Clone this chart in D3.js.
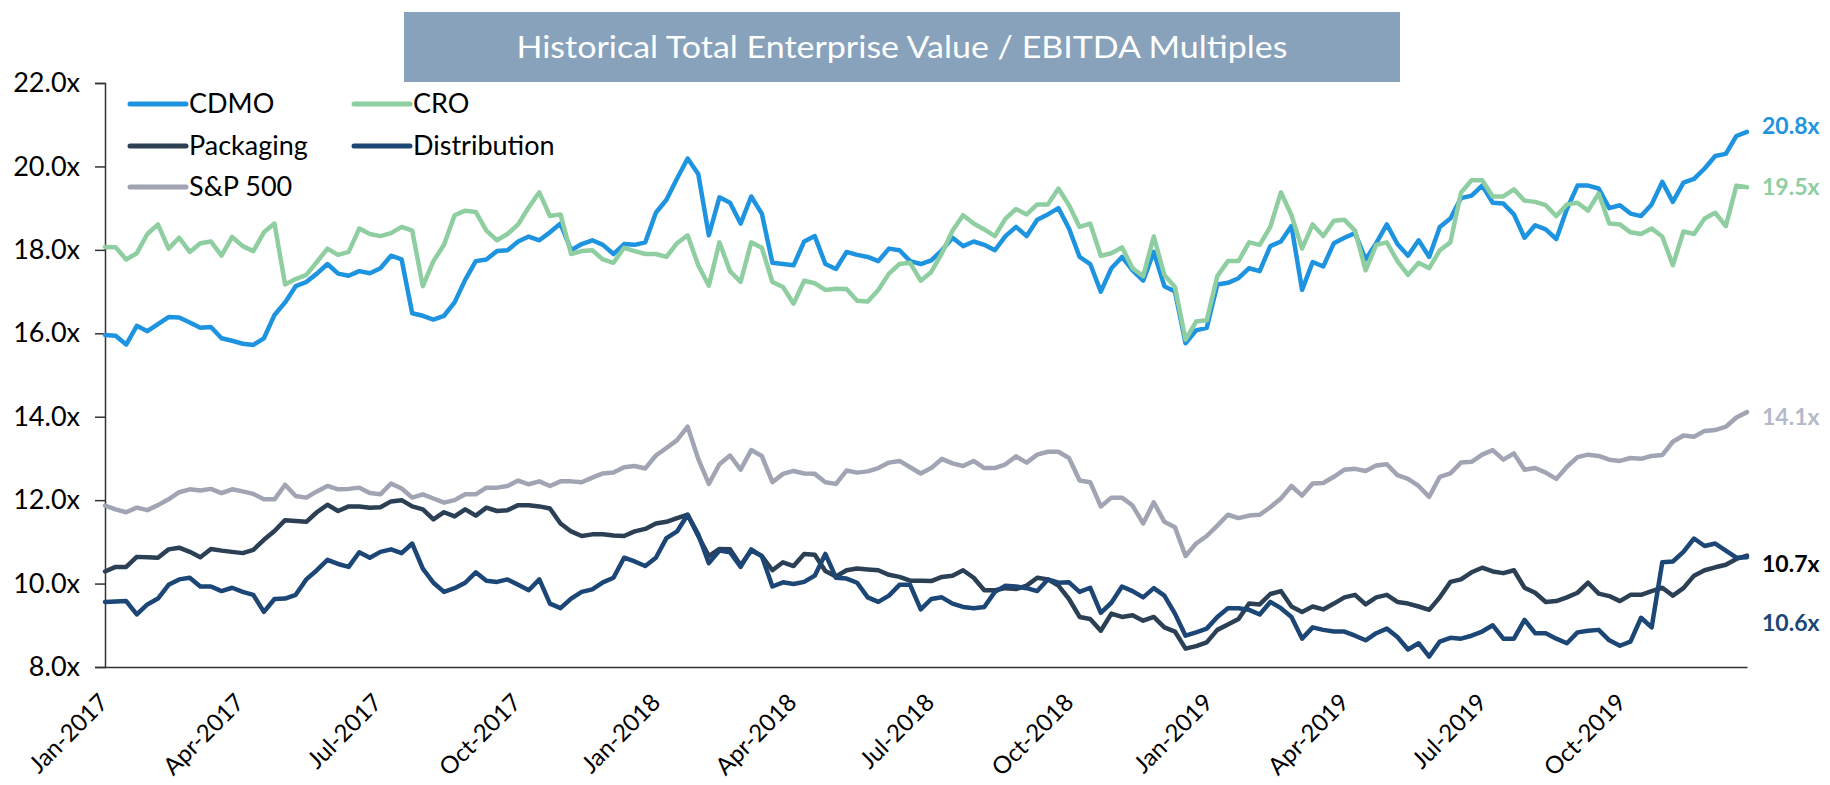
<!DOCTYPE html>
<html><head><meta charset="utf-8">
<script src="https://cdn.jsdelivr.net/npm/d3@7"></script>
<style>body{margin:0;background:#fff;} svg{display:block;font-family:Lato,'Open Sans',sans-serif;}</style>
</head><body><svg id="chart" width="1830" height="785"></svg>
<script>
// ---- data (weekly, starting first week of Jan 2017) ----
const seriesNames = ["CDMO","CRO","Packaging","Distribution","S&P 500"];
const cdmo = [15.96,15.94,15.73,16.18,16.05,16.22,16.39,16.38,16.26,16.13,16.15,15.88,15.82,15.75,15.72,15.88,16.44,16.74,17.13,17.23,17.43,17.66,17.43,17.38,17.49,17.44,
17.56,17.86,17.77,16.48,16.42,16.33,16.42,16.74,17.28,17.73,17.77,17.97,17.99,18.2,18.32,18.23,18.42,18.63,17.99,18.14,18.23,18.12,17.9,18.14,18.12,18.18,
18.89,19.2,19.71,20.19,19.82,18.35,19.26,19.13,18.63,19.28,18.87,17.69,17.66,17.63,18.2,18.33,17.66,17.54,17.95,17.88,17.83,17.73,18.03,17.99,17.73,17.66,
17.75,17.99,18.29,18.09,18.2,18.12,17.99,18.33,18.55,18.33,18.72,18.85,19.0,18.51,17.83,17.66,17.0,17.56,17.83,17.51,17.26,17.95,17.13,17.0,15.76,16.07,
16.13,17.17,17.21,17.32,17.56,17.49,18.09,18.2,18.57,17.04,17.71,17.6,18.16,18.29,18.4,17.77,18.16,18.61,18.14,17.86,18.23,17.83,18.55,18.75,19.24,19.3,
19.54,19.13,19.11,18.85,18.29,18.59,18.49,18.26,18.98,19.54,19.54,19.47,19.0,19.07,18.87,18.81,19.09,19.63,19.15,19.61,19.7,19.95,20.25,20.3,20.73,20.83];
const cro = [18.07,18.06,17.77,17.92,18.38,18.61,18.03,18.29,17.95,18.16,18.2,17.86,18.31,18.09,17.97,18.42,18.63,17.17,17.3,17.4,17.71,18.03,17.88,17.95,18.51,18.38,
18.33,18.4,18.55,18.46,17.13,17.73,18.12,18.83,18.94,18.91,18.46,18.23,18.38,18.61,19.02,19.38,18.81,18.85,17.9,17.97,17.99,17.77,17.69,18.05,17.97,17.9,
17.9,17.83,18.16,18.35,17.63,17.14,18.18,17.49,17.23,18.18,18.05,17.23,17.11,16.71,17.26,17.2,17.04,17.07,17.06,16.78,16.76,17.04,17.43,17.66,17.69,17.26,
17.47,17.92,18.46,18.83,18.63,18.49,18.33,18.75,18.98,18.85,19.09,19.09,19.47,19.07,18.55,18.63,17.86,17.92,18.06,17.56,17.37,18.32,17.4,17.11,15.85,16.28,
16.31,17.37,17.73,17.73,18.18,18.12,18.55,19.38,18.83,18.03,18.61,18.33,18.7,18.72,18.46,17.51,18.12,18.18,17.73,17.4,17.69,17.56,17.99,18.18,19.37,19.67,
19.67,19.28,19.28,19.45,19.18,19.15,19.07,18.81,19.09,19.13,18.94,19.35,18.63,18.61,18.42,18.38,18.51,18.32,17.63,18.44,18.38,18.75,18.89,18.57,19.54,19.5];
const packaging = [10.29,10.4,10.4,10.64,10.63,10.62,10.82,10.86,10.76,10.63,10.83,10.79,10.76,10.73,10.81,11.05,11.26,11.52,11.5,11.48,11.71,11.89,11.74,11.85,11.85,11.82,
11.83,11.97,12.0,11.85,11.78,11.54,11.71,11.61,11.78,11.63,11.82,11.74,11.76,11.88,11.88,11.85,11.8,11.44,11.25,11.14,11.18,11.18,11.15,11.14,11.25,11.31,
11.44,11.48,11.57,11.65,11.14,10.66,10.83,10.82,10.44,10.79,10.66,10.32,10.51,10.42,10.71,10.69,10.3,10.17,10.32,10.36,10.34,10.32,10.21,10.16,10.07,10.07,
10.06,10.16,10.19,10.32,10.14,9.84,9.84,9.89,9.87,9.95,10.14,10.1,9.95,9.63,9.2,9.15,8.87,9.28,9.2,9.24,9.11,9.2,8.95,8.85,8.44,8.5,
8.59,8.89,9.02,9.15,9.52,9.5,9.75,9.82,9.45,9.32,9.45,9.38,9.52,9.67,9.73,9.5,9.67,9.73,9.56,9.52,9.45,9.37,9.67,10.04,10.1,10.27,
10.38,10.29,10.25,10.32,9.9,9.78,9.56,9.58,9.67,9.78,10.02,9.76,9.7,9.58,9.73,9.73,9.82,9.9,9.71,9.89,10.19,10.32,10.39,10.45,10.59,10.67];
const distribution = [9.56,9.57,9.58,9.26,9.5,9.64,9.97,10.1,10.14,9.93,9.93,9.82,9.9,9.8,9.73,9.32,9.63,9.64,9.73,10.1,10.32,10.57,10.47,10.4,10.75,10.62,
10.76,10.82,10.73,10.96,10.36,10.02,9.8,9.89,10.02,10.27,10.07,10.04,10.1,9.97,9.84,10.1,9.52,9.41,9.64,9.8,9.86,10.03,10.14,10.62,10.53,10.42,
10.62,11.09,11.25,11.65,11.18,10.49,10.79,10.75,10.4,10.82,10.66,9.93,10.03,9.99,10.04,10.19,10.71,10.14,10.12,10.02,9.67,9.56,9.71,9.97,9.97,9.38,
9.63,9.67,9.52,9.44,9.41,9.44,9.8,9.95,9.93,9.89,9.82,10.1,10.02,10.03,9.8,9.9,9.3,9.54,9.93,9.82,9.67,9.89,9.71,9.28,8.75,8.83,
8.92,9.2,9.41,9.41,9.37,9.26,9.56,9.41,9.2,8.68,8.95,8.89,8.85,8.85,8.75,8.64,8.81,8.92,8.72,8.42,8.57,8.25,8.61,8.7,8.68,8.75,
8.85,9.0,8.68,8.68,9.13,8.81,8.81,8.68,8.57,8.83,8.87,8.89,8.64,8.51,8.61,9.18,8.95,10.51,10.53,10.76,11.08,10.9,10.96,10.79,10.62,10.63];
const sp500 = [11.87,11.78,11.71,11.82,11.76,11.88,12.02,12.19,12.26,12.23,12.27,12.17,12.26,12.21,12.15,12.02,12.02,12.37,12.1,12.06,12.21,12.34,12.26,12.27,12.3,12.17,
12.14,12.4,12.28,12.06,12.14,12.04,11.94,12.0,12.14,12.14,12.3,12.3,12.34,12.47,12.38,12.45,12.34,12.45,12.45,12.43,12.54,12.64,12.66,12.79,12.82,12.76,
13.07,13.25,13.44,13.76,12.99,12.39,12.86,13.07,12.73,13.2,13.06,12.43,12.63,12.7,12.64,12.63,12.43,12.39,12.71,12.66,12.69,12.77,12.9,12.94,12.79,12.64,
12.77,12.99,12.88,12.82,12.94,12.77,12.77,12.86,13.05,12.9,13.09,13.16,13.16,13.01,12.47,12.43,11.85,12.06,12.06,11.87,11.44,11.95,11.48,11.35,10.66,10.96,
11.14,11.39,11.65,11.57,11.63,11.65,11.83,12.04,12.34,12.11,12.4,12.41,12.56,12.73,12.75,12.7,12.83,12.86,12.6,12.51,12.34,12.08,12.56,12.64,12.9,12.92,
13.09,13.2,12.97,13.12,12.73,12.77,12.66,12.51,12.8,13.03,13.09,13.06,12.97,12.94,13.01,12.99,13.06,13.08,13.4,13.55,13.52,13.66,13.68,13.76,13.98,14.11];
const yTickValues = [8,10,12,14,16,18,20,22];
const xTickLabels = ["Jan-2017","Apr-2017","Jul-2017","Oct-2017","Jan-2018","Apr-2018","Jul-2018","Oct-2018","Jan-2019","Apr-2019","Jul-2019","Oct-2019"];
const endLabels = ["20.8x","19.5x","10.7x","10.6x","14.1x"];
const titleText = "Historical Total Enterprise Value / EBITDA Multiples";

// ---- styling ----
const colors = ["#1E94E0","#8ECEA0","#2B3F55","#1B4675","#A0A4B3"];
const endLabelColors = ["#1E94E0","#8ECEA0","#000000","#1B4675","#B4B9C9"];
const endLabelDy = [-6, 0, 8, 66, 5];

const svg = d3.select("#chart");
const start = new Date(2017,0,1);
const dates = d3.range(cdmo.length).map(i => d3.timeDay.offset(start, 7*i));
const x = d3.scaleTime().domain([dates[0], dates[dates.length-1]]).range([105,1747]);
const y = d3.scaleLinear().domain([8,22]).range([667,83]);

// title
svg.append("rect").attr("x",404).attr("y",12).attr("width",996).attr("height",70).attr("fill","#87A2BA");
svg.append("text").attr("x",902).attr("y",58).attr("text-anchor","middle")
  .attr("fill","#fff").attr("font-size",31).attr("textLength",771).attr("lengthAdjust","spacingAndGlyphs")
  .text(titleText);

// y axis
const yAxis = d3.axisLeft(y).tickValues(yTickValues).tickFormat(d => d3.format(".1f")(d)+"x").tickSize(10).tickPadding(15);
const gy = svg.append("g").attr("transform","translate(105,0)").call(yAxis);
gy.select(".domain").attr("stroke","#333").attr("stroke-width",1.5);
gy.selectAll(".tick line").attr("stroke","#333").attr("stroke-width",1.5);
gy.selectAll(".tick text").attr("font-size",27).attr("fill","#000").attr("font-family","Lato");

// x axis
const xTickDates = xTickLabels.map((_,i)=> d3.timeMonth.offset(start, 3*i));
const xAxis = d3.axisBottom(x).tickValues(xTickDates).tickFormat((d,i)=>xTickLabels[i]).tickSize(0).tickSizeOuter(0);
const gx = svg.append("g").attr("transform","translate(0,667)").call(xAxis);
gx.select(".domain").attr("stroke","#333").attr("stroke-width",1.5);
gx.selectAll(".tick text").attr("font-size",24).attr("fill","#000").attr("font-family","Lato")
  .attr("text-anchor","end").attr("dy",null).attr("y",0)
  .attr("transform","translate(4,37) rotate(-45)");

// lines
const allSeries = [cdmo, cro, packaging, distribution, sp500];
const line = d3.line().x((d,i)=>x(dates[i])).y(d=>y(d));
const drawOrder = [4,2,3,0,1];
drawOrder.forEach(k=>{
  svg.append("path").datum(allSeries[k]).attr("d",line)
    .attr("fill","none").attr("stroke",colors[k]).attr("stroke-width",4.5)
    .attr("stroke-linejoin","round").attr("stroke-linecap","round");
});

// end labels
allSeries.forEach((s,k)=>{
  svg.append("text").attr("x",1762).attr("y",y(s[s.length-1])+endLabelDy[k]).attr("dy","0.35em")
    .attr("font-size",23).attr("font-weight","bold").attr("fill",endLabelColors[k]).text(endLabels[k]);
});

// legend
const legPos = [[130,104],[354,104],[130,146],[354,146],[130,187]];
seriesNames.forEach((n,k)=>{
  const [lx,ly] = legPos[k];
  const g = svg.append("g");
  g.append("line").attr("x1",lx).attr("x2",lx+56).attr("y1",ly).attr("y2",ly)
    .attr("stroke",colors[k]).attr("stroke-width",5).attr("stroke-linecap","round");
  g.append("text").attr("x",lx+59).attr("y",ly).attr("dy","0.35em").attr("font-size",27).attr("fill","#000").text(n);
});
</script></body></html>
